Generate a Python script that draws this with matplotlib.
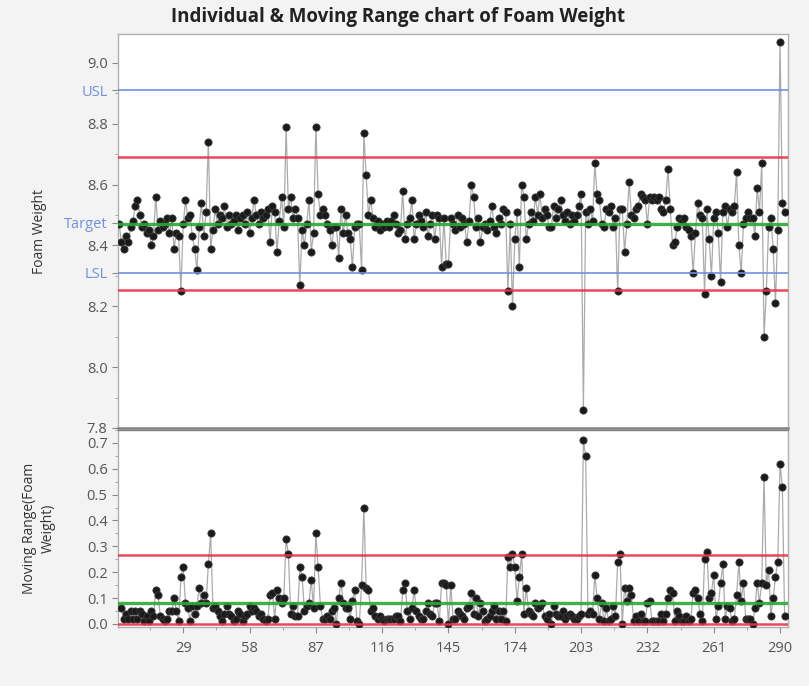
import numpy as np
import matplotlib
matplotlib.use('Agg')
from matplotlib import pyplot as plt
from matplotlib.ticker import MultipleLocator

plt.rcParams['font.family'] = ['Open Sans', 'DejaVu Sans']

# 泡沫重量 单值数据
foam_weight = [
    8.47, 8.41, 8.39, 8.43, 8.41, 8.46, 8.48, 8.53, 8.55, 8.50,
    8.46, 8.47, 8.44, 8.45, 8.40, 8.43, 8.56, 8.45, 8.48, 8.46,
    8.47, 8.49, 8.44, 8.49, 8.39, 8.44, 8.43, 8.25, 8.47, 8.55,
    8.49, 8.50, 8.43, 8.39, 8.32, 8.46, 8.54, 8.43, 8.51, 8.74,
    8.39, 8.45, 8.52, 8.47, 8.50, 8.49, 8.53, 8.46, 8.50, 8.47,
    8.48, 8.50, 8.45, 8.49, 8.50, 8.47, 8.51, 8.44, 8.49, 8.55,
    8.50, 8.47, 8.51, 8.49, 8.50, 8.52, 8.41, 8.53, 8.51, 8.38,
    8.48, 8.56, 8.46, 8.79, 8.52, 8.56, 8.49, 8.52, 8.49, 8.27,
    8.45, 8.40, 8.47, 8.55, 8.38, 8.44, 8.79, 8.57, 8.50, 8.52,
    8.50, 8.47, 8.45, 8.40, 8.46, 8.46, 8.36, 8.52, 8.44, 8.50,
    8.44, 8.42, 8.33, 8.46, 8.47, 8.47, 8.32, 8.77, 8.63, 8.50,
    8.55, 8.49, 8.46, 8.48, 8.45, 8.47, 8.46, 8.48, 8.46, 8.48,
    8.50, 8.47, 8.44, 8.45, 8.58, 8.42, 8.47, 8.49, 8.55, 8.42,
    8.47, 8.50, 8.48, 8.46, 8.51, 8.43, 8.47, 8.50, 8.42, 8.50,
    8.49, 8.33, 8.49, 8.34, 8.34, 8.49, 8.47, 8.45, 8.50, 8.46,
    8.49, 8.47, 8.41, 8.48, 8.60, 8.56, 8.46, 8.49, 8.41, 8.46,
    8.47, 8.45, 8.48, 8.53, 8.46, 8.44, 8.49, 8.47, 8.52, 8.51,
    8.25, 8.47, 8.20, 8.42, 8.51, 8.33, 8.60, 8.56, 8.42, 8.47,
    8.51, 8.48, 8.56, 8.50, 8.57, 8.49, 8.52, 8.50, 8.46, 8.46,
    8.53, 8.49, 8.52, 8.55, 8.50, 8.48, 8.51, 8.47, 8.50, 8.48,
    8.50, 8.53, 8.57, 7.86, 8.51, 8.47, 8.52, 8.48, 8.67, 8.57,
    8.55, 8.47, 8.46, 8.52, 8.51, 8.53, 8.46, 8.49, 8.25, 8.52,
    8.52, 8.38, 8.47, 8.61, 8.50, 8.49, 8.52, 8.53, 8.57, 8.56,
    8.55, 8.47, 8.56, 8.55, 8.56, 8.55, 8.56, 8.52, 8.51, 8.55,
    8.65, 8.52, 8.40, 8.41, 8.46, 8.49, 8.48, 8.49, 8.46, 8.45,
    8.43, 8.31, 8.44, 8.54, 8.50, 8.49, 8.24, 8.52, 8.42, 8.30,
    8.49, 8.51, 8.44, 8.28, 8.51, 8.53, 8.46, 8.52, 8.51, 8.53,
    8.64, 8.40, 8.31, 8.47, 8.49, 8.51, 8.49, 8.49, 8.43, 8.59,
    8.51, 8.67, 8.10, 8.25, 8.46, 8.49, 8.39, 8.21, 8.45, 9.07,
    8.54, 8.51,
]

# 控制限和规格限
ucl, center, lcl = 8.692, 8.472, 8.252
usl, target, lsl = 8.91, 8.475, 8.31
mr_ucl, mr_center, mr_lcl = 0.266, 0.082, 0.0

x_ticks = [29, 58, 87, 116, 145, 174, 203, 232, 261, 290]

x = np.arange(1, len(foam_weight) + 1)
y = np.array(foam_weight)
mr = np.abs(np.diff(y))   # 移动极差
x_mr = x[1:]

fig = plt.figure(figsize=(8.09, 6.86), dpi=100, facecolor='#f3f3f3')
ax1 = fig.add_axes([0.1459, 0.3761, 0.8282, 0.5743])
ax2 = fig.add_axes([0.1459, 0.0860, 0.8282, 0.2872])

red = '#e8344a'
green = '#2aa836'
blue = '#7090e0'
tick_col = '#555555'


def draw_points(ax, xs, ys):
    ax.plot(xs, ys, color='#ababab', lw=0.9, zorder=2)
    ax.plot(xs, ys, 'o', ms=5.2, mfc='#1a1a1a', mec='#3a3a3a', mew=0.6, zorder=3)


# 上图：单值图
draw_points(ax1, x, y)
ax1.axhline(usl, color=blue, lw=1.2, zorder=4)
ax1.axhline(lsl, color=blue, lw=1.2, zorder=4)
ax1.axhline(ucl, color=red, lw=1.8, alpha=0.9, zorder=4)
ax1.axhline(lcl, color=red, lw=1.8, alpha=0.9, zorder=4)
ax1.axhline(center, color=green, lw=2.4, alpha=0.9, zorder=4)
ax1.set_xlim(0.5, 293.5)
ax1.set_ylim(7.8, 9.095)
yt = [7.8, 8.0, 8.2, 8.4, 8.6, 8.8, 9.0, lsl, target, usl]
ytl = ['7.8', '8.0', '8.2', '8.4', '8.6', '8.8', '9.0', 'LSL', 'Target', 'USL']
ax1.set_yticks(yt)
ax1.set_yticklabels(ytl)
ax1.yaxis.set_minor_locator(MultipleLocator(0.1))
ax1.set_xticks([])
ax1.set_ylabel('Foam Weight', fontsize=10, color='#333333', labelpad=12)
fig.text(0.492, 0.975, 'Individual & Moving Range chart of Foam Weight',
         ha='center', va='center', fontsize=13.5, fontweight='bold', color='#222222')

# 下图：移动极差图
draw_points(ax2, x_mr, mr)
ax2.axhline(mr_ucl, color=red, lw=1.8, alpha=0.9, zorder=4)
ax2.axhline(mr_lcl, color=red, lw=1.8, alpha=0.9, zorder=4)
ax2.axhline(mr_center, color=green, lw=2.4, alpha=0.9, zorder=4)
ax2.set_xlim(0.5, 293.5)
ax2.set_ylim(-0.012, 0.75)
ax2.set_yticks([0, 0.1, 0.2, 0.3, 0.4, 0.5, 0.6, 0.7])
ax2.set_yticklabels(['0.0', '0.1', '0.2', '0.3', '0.4', '0.5', '0.6', '0.7'])
ax2.yaxis.set_minor_locator(MultipleLocator(0.05))
ax2.set_xticks(x_ticks)
ax2.set_xticks([14.5 + 29 * k for k in range(10)], minor=True)
ax2.set_ylabel('Moving Range(Foam\nWeight)', fontsize=10, color='#333333',
               labelpad=22, linespacing=1.4)

for ax in (ax1, ax2):
    ax.set_facecolor('white')
    ax.tick_params(axis='both', which='major', labelsize=10.5, colors='#888888',
                   length=4, labelcolor=tick_col)
    ax.tick_params(axis='both', which='minor', length=2.5, colors='#999999')
    for s in ax.spines.values():
        s.set_color('#b0b0b0')
        s.set_linewidth(1.0)
ax2.tick_params(axis='x', which='major', pad=6)
for lab in ax1.get_yticklabels():
    if lab.get_text() in ('LSL', 'Target', 'USL'):
        lab.set_color(blue)
ax1.spines['bottom'].set_color('#808080')
ax1.spines['bottom'].set_linewidth(1.8)
ax2.spines['top'].set_color('#808080')

plt.savefig('out.png', dpi=100, facecolor=fig.get_facecolor())
